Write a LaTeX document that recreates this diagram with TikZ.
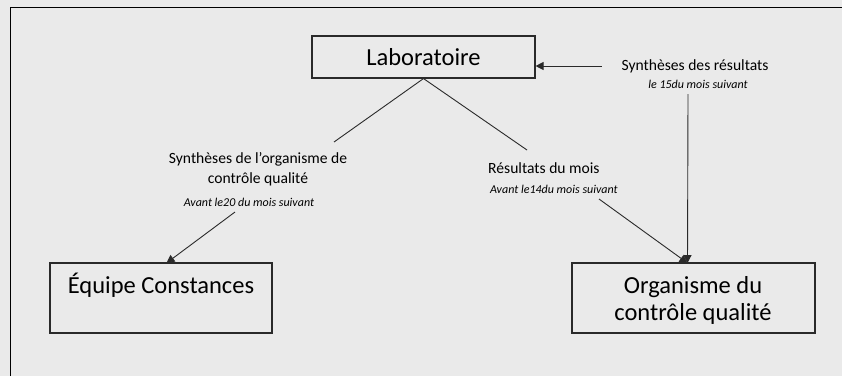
\documentclass[tikz,border=0pt]{standalone}
\usepackage{fontspec}
\setmainfont{Carlito}
\usetikzlibrary{arrows.meta}
\definecolor{bg}{HTML}{EAEAEA}
\definecolor{ln}{HTML}{2A2A2A}
\tikzset{
  box/.style={draw=ln, line width=1.1pt, inner sep=0pt},
  conn/.style={draw=ln, line width=0.9pt},
  tip/.style={conn, -{Triangle[length=8pt,width=8pt]}},
  lbl/.style={inner sep=0pt, font=\fontsize{15.6}{19.5}\selectfont, align=center, text=black},
  sub/.style={inner sep=0pt, font=\itshape\fontsize{12}{15}\selectfont, text=black},
}
\begin{document}
\begin{tikzpicture}[x=1pt,y=-1pt]
\fill[bg] (0,0) rectangle (842,376);
\useasboundingbox (0,0) rectangle (842,376);
\draw[line width=1.4pt, black] (10.5,376) -- (10.5,7.5) -- (842,7.5);
% boxes
\node[box, minimum width=223pt, minimum height=42pt, font=\fontsize{24.5}{27}\selectfont] (lab) at (423.5,57) {Laboratoire};
\node[box, minimum width=222pt, minimum height=70pt] (eq) at (161,298) {};
\node[font=\fontsize{24.5}{27}\selectfont, anchor=base] (eqt) at (161,293) {Équipe Constances};
\node[box, minimum width=243pt, minimum height=70pt] (org) at (693.5,298) {};
\node[font=\fontsize{24.5}{27}\selectfont, align=center, inner sep=0pt] (orgt) at (693,300) {Organisme du\\contrôle qualité};
% labels
\node[lbl] (l1) at (258,169) {Synthèses de l’organisme de\\contrôle qualité};
\node[sub] (l1s) at (249,202) {Avant le20 du mois suivant};
\node[lbl, anchor=west] (l2) at (488,168) {Résultats du mois};
\node[sub, anchor=west] (l2s) at (490,189) {Avant le14du mois suivant};
\node[lbl] (l3) at (695,66) {Synthèses des résultats};
\node[sub] (l3s) at (698,84) {le 15du mois suivant};
% coordinates
\coordinate (apex) at (lab.south);
\coordinate (a1) at (334,142);
\coordinate (a2) at (235,212);
\coordinate (b1) at (527,150);
\coordinate (b2) at (599,199);
\coordinate (c1) at (601.5,66);
\coordinate (d1) at (688,94);
\coordinate (eqtop) at (166.5,263);
\coordinate (orgtop) at (687.5,263);
% connectors
\draw[conn] (apex) -- (a1);
\draw[tip] (a2) -- (eqtop);
\draw[conn] (apex) -- (b1);
\draw[tip] (b2) -- (orgtop);
\draw[tip] (d1) -- (orgtop);
\draw[tip] (c1) -- (lab.east |- c1);
\end{tikzpicture}
\end{document}
